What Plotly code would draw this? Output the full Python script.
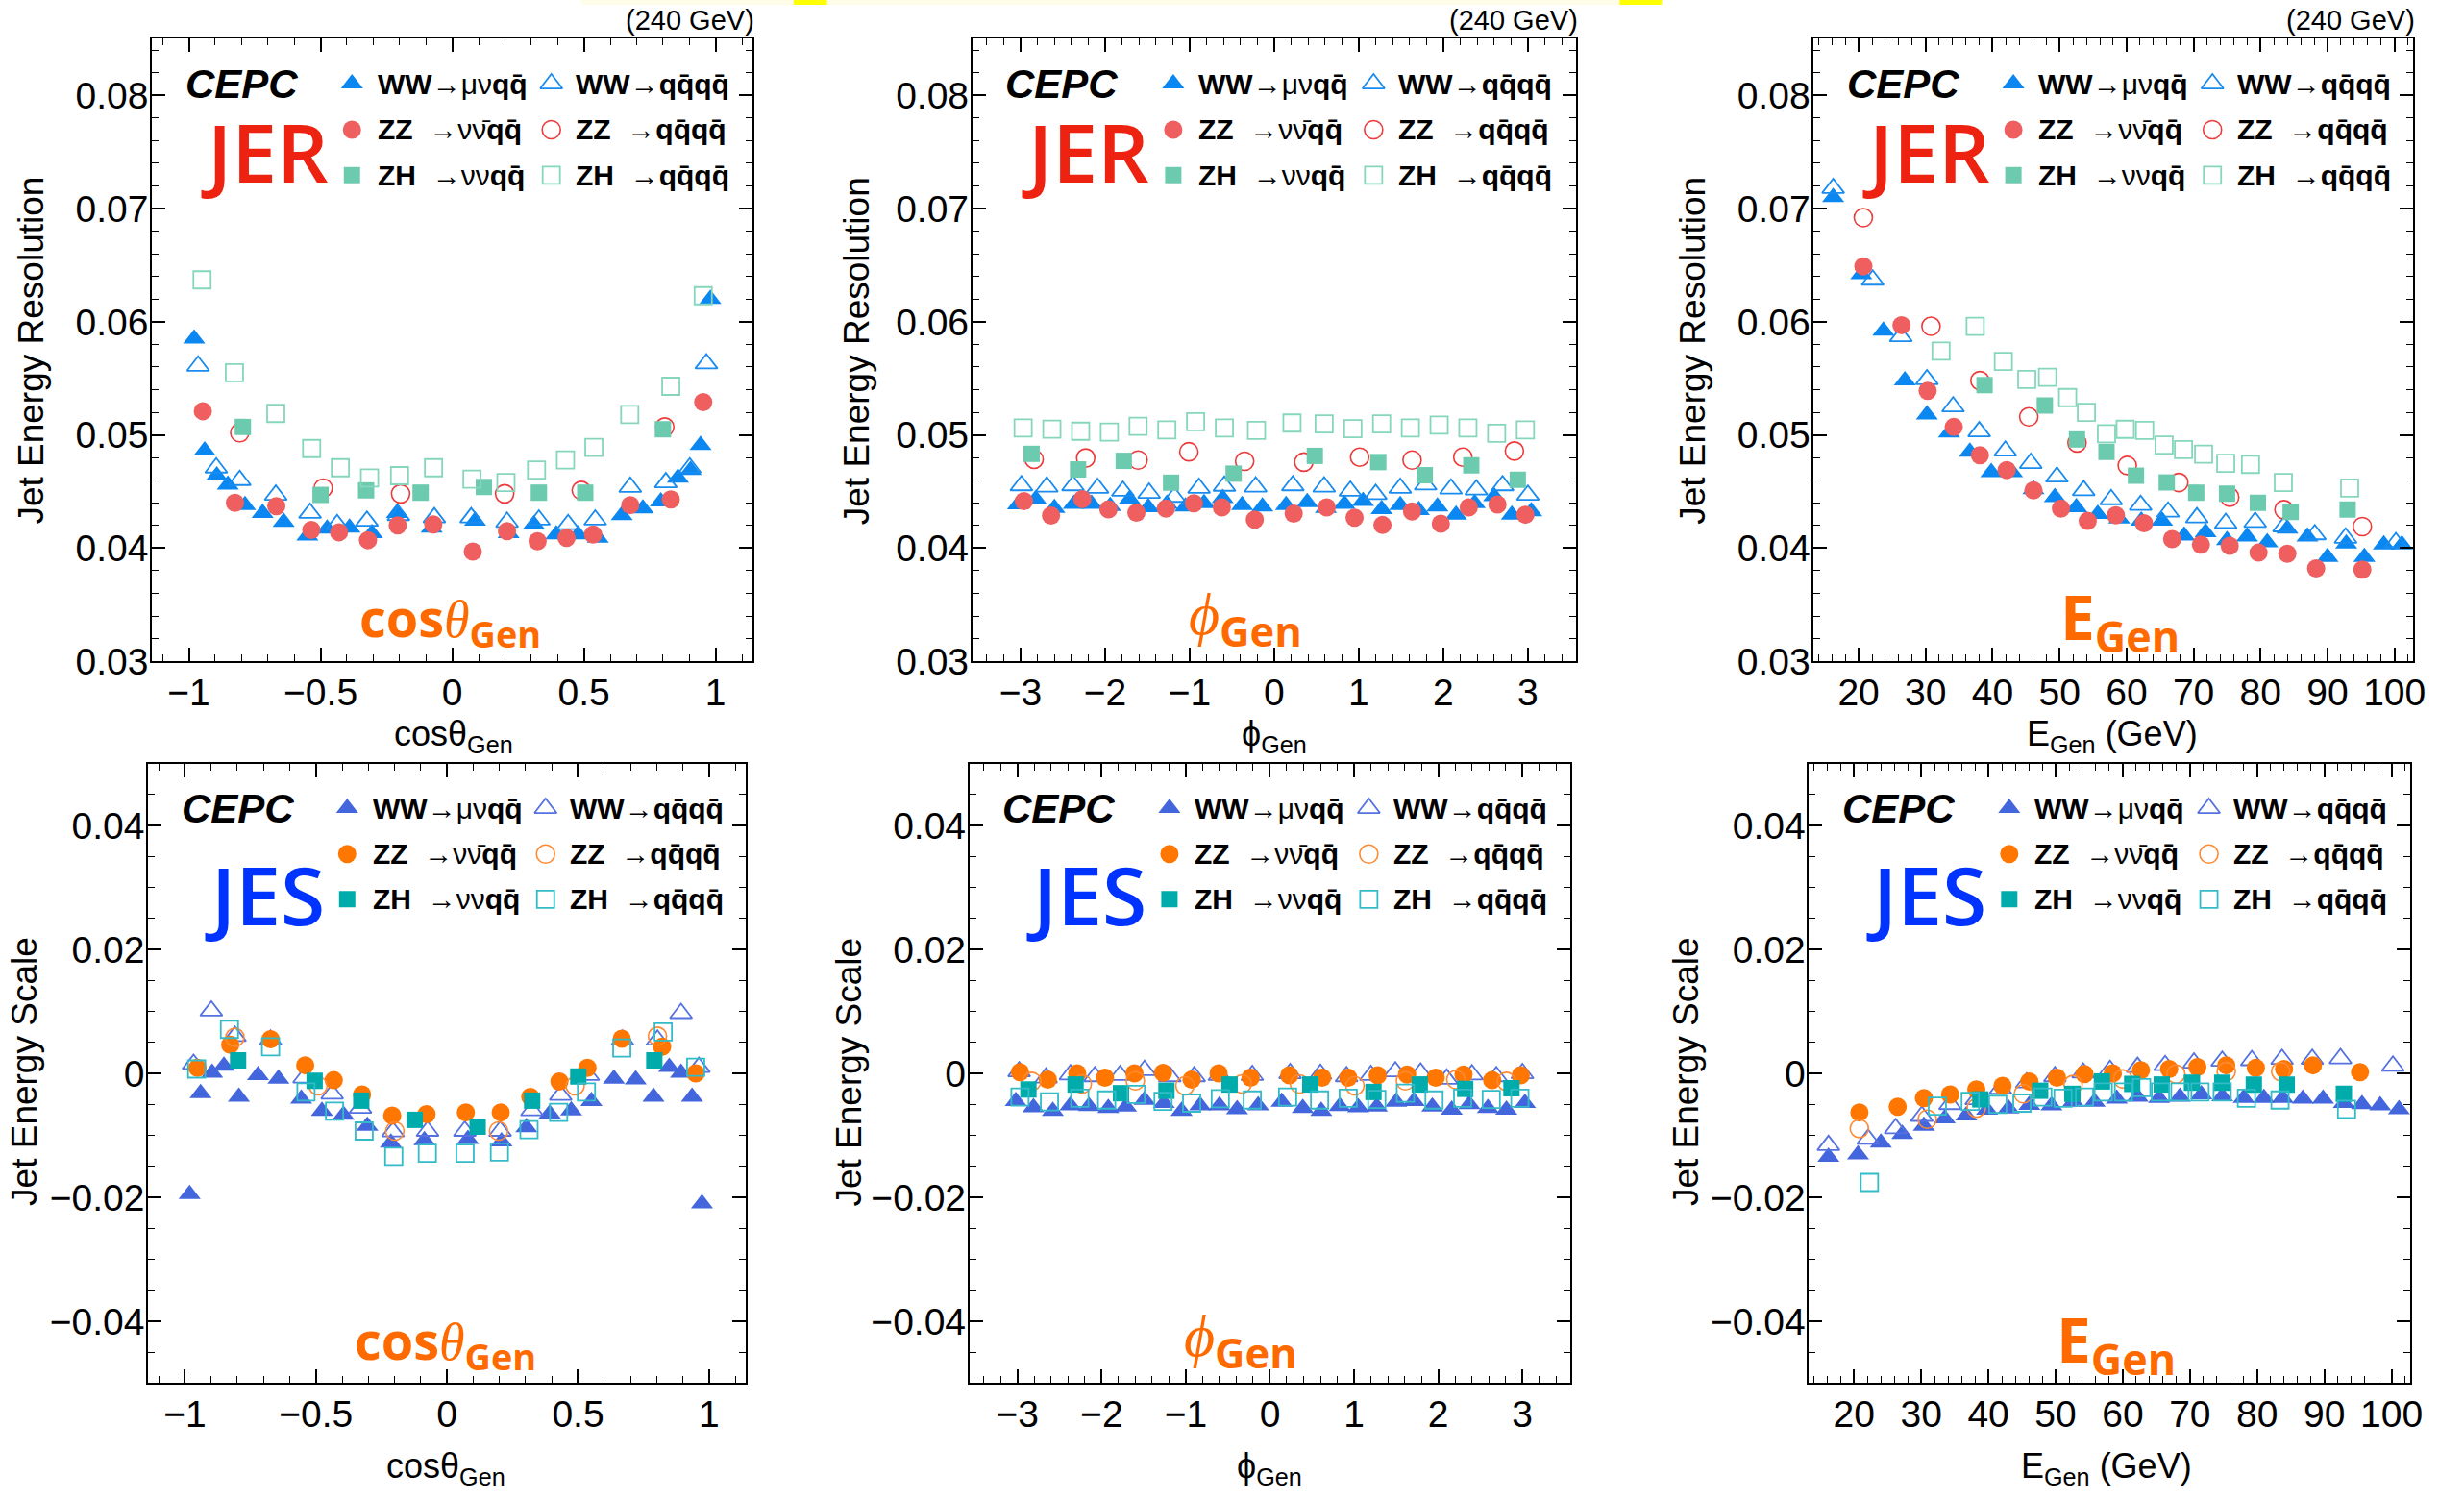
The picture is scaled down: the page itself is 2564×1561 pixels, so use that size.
import plotly.graph_objects as go

W, H = 2564, 1561

# ---------------- DATA ----------------
# JER vs cos(theta)
jer_cos_ww_munu_x = [-0.98, -0.94, -0.894, -0.852, -0.787, -0.72, -0.64, -0.55, -0.475, -0.39, -0.305, -0.21, -0.078, 0.087, 0.214, 0.31, 0.395, 0.478, 0.553, 0.644, 0.724, 0.792, 0.857, 0.905, 0.943, 0.98]
jer_cos_ww_munu_y = [0.0585, 0.0486, 0.0464, 0.0456, 0.0438, 0.0431, 0.0423, 0.0411, 0.0417, 0.0418, 0.0413, 0.0431, 0.0418, 0.0424, 0.0413, 0.0421, 0.0412, 0.0412, 0.0409, 0.0429, 0.0435, 0.0441, 0.0462, 0.0469, 0.0491, 0.062]
jer_cos_ww_qqqq_x = [-0.965, -0.896, -0.807, -0.67, -0.54, -0.437, -0.324, -0.204, -0.068, 0.072, 0.208, 0.329, 0.44, 0.543, 0.676, 0.811, 0.902, 0.965]
jer_cos_ww_qqqq_y = [0.0561, 0.0471, 0.046, 0.0447, 0.0431, 0.0421, 0.0424, 0.0429, 0.0427, 0.0427, 0.0423, 0.0425, 0.0421, 0.0425, 0.0454, 0.0458, 0.0471, 0.0563]
jer_cos_zz_nunu_x = [-0.947, -0.825, -0.668, -0.535, -0.43, -0.32, -0.207, -0.072, 0.078, 0.208, 0.324, 0.434, 0.535, 0.676, 0.83, 0.953]
jer_cos_zz_nunu_y = [0.0521, 0.044, 0.0437, 0.0416, 0.0414, 0.0407, 0.042, 0.0421, 0.0397, 0.0415, 0.0406, 0.0409, 0.0412, 0.0438, 0.0443, 0.0529]
jer_cos_zz_qqqq_x = [-0.807, -0.49, -0.196, 0.199, 0.49, 0.807]
jer_cos_zz_qqqq_y = [0.0502, 0.0453, 0.0448, 0.0448, 0.0451, 0.0507]
jer_cos_zh_nunu_x = [-0.795, -0.5, -0.327, -0.12, 0.12, 0.329, 0.505, 0.8]
jer_cos_zh_nunu_y = [0.0507, 0.0447, 0.0451, 0.0449, 0.0454, 0.0449, 0.0449, 0.0505]
jer_cos_zh_qqqq_x = [-0.95, -0.827, -0.67, -0.534, -0.425, -0.314, -0.2, -0.071, 0.075, 0.204, 0.32, 0.43, 0.538, 0.674, 0.83, 0.953]
jer_cos_zh_qqqq_y = [0.0637, 0.0555, 0.0519, 0.0488, 0.0471, 0.0462, 0.0464, 0.0471, 0.0461, 0.0458, 0.0469, 0.0478, 0.0489, 0.0518, 0.0543, 0.0623]

# JER vs phi
jer_phi_ww_munu_x = [-3.03, -2.82, -2.60, -2.37, -2.16, -1.94, -1.71, -1.49, -1.27, -1.05, -0.83, -0.61, -0.38, -0.14, 0.14, 0.39, 0.61, 0.83, 1.05, 1.27, 1.49, 1.71, 1.93, 2.15, 2.37, 2.60, 2.81, 3.04]
jer_phi_ww_munu_y = [0.04385, 0.04433, 0.04353, 0.04389, 0.04389, 0.04371, 0.04433, 0.0436, 0.04389, 0.04367, 0.04396, 0.0444, 0.04378, 0.04367, 0.04378, 0.04404, 0.04353, 0.04389, 0.04415, 0.04342, 0.04378, 0.04335, 0.04367, 0.04295, 0.04396, 0.04458, 0.04295, 0.04324]
jer_phi_ww_qqqq_x = [-2.99, -2.69, -2.38, -2.09, -1.79, -1.48, -1.18, -0.89, -0.59, -0.22, 0.22, 0.59, 0.90, 1.20, 1.49, 1.79, 2.09, 2.39, 2.70, 3.0]
jer_phi_ww_qqqq_y = [0.04553, 0.04542, 0.04553, 0.04531, 0.04505, 0.04487, 0.04451, 0.04531, 0.04549, 0.04542, 0.04553, 0.04542, 0.04505, 0.04476, 0.04531, 0.0456, 0.04524, 0.04516, 0.04553, 0.04469]
jer_phi_zz_nunu_x = [-2.96, -2.64, -2.27, -1.96, -1.63, -1.28, -0.95, -0.62, -0.23, 0.23, 0.62, 0.95, 1.28, 1.63, 1.97, 2.30, 2.64, 2.97]
jer_phi_zz_nunu_y = [0.04415, 0.04287, 0.04433, 0.04342, 0.04313, 0.04349, 0.04396, 0.0436, 0.04251, 0.04305, 0.0436, 0.04269, 0.04204, 0.04324, 0.04215, 0.0436, 0.04385, 0.04295]
jer_phi_zz_qqqq_x = [-2.84, -2.23, -1.61, -1.01, -0.35, 0.35, 1.01, 1.63, 2.23, 2.84]
jer_phi_zz_qqqq_y = [0.04785, 0.04796, 0.04778, 0.04851, 0.04767, 0.0476, 0.04804, 0.04778, 0.04804, 0.04858]
jer_phi_zh_nunu_x = [-2.87, -2.32, -1.78, -1.22, -0.48, 0.48, 1.23, 1.78, 2.33, 2.88]
jer_phi_zh_nunu_y = [0.04833, 0.04695, 0.04771, 0.04578, 0.04658, 0.04815, 0.0476, 0.04644, 0.04731, 0.04604]
jer_phi_zh_qqqq_x = [-2.97, -2.63, -2.29, -1.95, -1.61, -1.27, -0.93, -0.59, -0.21, 0.21, 0.59, 0.93, 1.27, 1.61, 1.95, 2.29, 2.63, 2.97]
jer_phi_zh_qqqq_y = [0.05062, 0.05051, 0.05033, 0.05025, 0.05076, 0.05044, 0.05116, 0.05062, 0.0504, 0.05105, 0.05098, 0.05055, 0.05098, 0.05062, 0.05087, 0.05062, 0.05015, 0.05044]

# JER vs E
jer_e_ww_munu_x = [16.2, 20.4, 23.7, 26.9, 30.2, 33.5, 36.6, 39.8, 42.9, 46.1, 49.3, 52.5, 55.7, 58.9, 62.2, 65.3, 68.6, 71.8, 75.0, 78.0, 81.0, 84.0, 87.0, 90.0, 92.8, 95.5, 98.4, 101.1]
jer_e_ww_munu_y = [0.0710, 0.0642, 0.0592, 0.0548, 0.0518, 0.0502, 0.0485, 0.0467, 0.0467, 0.0452, 0.0445, 0.0436, 0.0430, 0.0426, 0.0424, 0.0424, 0.0411, 0.0414, 0.0407, 0.0410, 0.0405, 0.0417, 0.0410, 0.0392, 0.0404, 0.0392, 0.0403, 0.0403]
jer_e_ww_qqqq_x = [16.2, 22.1, 26.3, 30.2, 34.1, 38.0, 41.9, 45.7, 49.6, 53.6, 57.7, 62.1, 66.2, 70.5, 74.8, 79.2, 83.5, 88.1, 92.7, 100.2]
jer_e_ww_qqqq_y = [0.0718, 0.0637, 0.0587, 0.0549, 0.0525, 0.0503, 0.0486, 0.0475, 0.0463, 0.0451, 0.0443, 0.0438, 0.0432, 0.0427, 0.0422, 0.0423, 0.0419, 0.0412, 0.0409, 0.0405]
jer_e_zz_nunu_x = [20.7, 26.4, 30.3, 34.2, 38.1, 42.1, 46.1, 50.2, 54.2, 58.4, 62.6, 66.8, 71.1, 75.4, 79.7, 84.0, 88.3, 95.2]
jer_e_zz_nunu_y = [0.0649, 0.0597, 0.0539, 0.0507, 0.0482, 0.0469, 0.0451, 0.0435, 0.0424, 0.0429, 0.0422, 0.0408, 0.0403, 0.0402, 0.0396, 0.0395, 0.0382, 0.0381]
jer_e_zz_qqqq_x = [20.7, 30.8, 38.1, 45.4, 52.6, 60.1, 67.8, 75.4, 83.5, 95.2]
jer_e_zz_qqqq_y = [0.0692, 0.0596, 0.0548, 0.0516, 0.0493, 0.0473, 0.0458, 0.0445, 0.0434, 0.0419]
jer_e_zh_nunu_x = [38.8, 47.8, 52.6, 57.0, 61.4, 66.0, 70.4, 75.0, 79.6, 84.5, 93.0]
jer_e_zh_nunu_y = [0.0544, 0.0526, 0.0496, 0.0485, 0.0464, 0.0458, 0.0449, 0.0448, 0.0440, 0.0432, 0.0434]
jer_e_zh_qqqq_x = [32.3, 37.4, 41.6, 45.1, 48.2, 51.2, 54.0, 57.0, 59.8, 62.7, 65.6, 68.5, 71.5, 74.8, 78.5, 83.4, 93.3]
jer_e_zh_qqqq_y = [0.0574, 0.0596, 0.0565, 0.0549, 0.0551, 0.0533, 0.0520, 0.0501, 0.0505, 0.0504, 0.0491, 0.0487, 0.0483, 0.0475, 0.0474, 0.0458, 0.0453]

# JES vs cos(theta)
jes_cos_ww_munu_x = [-0.982, -0.94, -0.896, -0.851, -0.794, -0.721, -0.643, -0.556, -0.477, -0.395, -0.304, -0.214, -0.086, 0.08, 0.208, 0.303, 0.392, 0.474, 0.551, 0.637, 0.72, 0.788, 0.848, 0.893, 0.935, 0.973]
jes_cos_ww_munu_y = [-0.0195, -0.0032, 0.0001, 0.0012, -0.0038, -0.0003, -0.0009, -0.0041, -0.0061, -0.0067, -0.0085, -0.0112, -0.0108, -0.0106, -0.011, -0.0087, -0.0065, -0.006, -0.0045, -0.0009, -0.001, -0.0038, 0.001, 0.0001, -0.0038, -0.021]
jes_cos_ww_qqqq_x = [-0.967, -0.899, -0.809, -0.673, -0.545, -0.438, -0.33, -0.206, -0.074, 0.068, 0.203, 0.324, 0.434, 0.539, 0.67, 0.803, 0.893, 0.961]
jes_cos_ww_qqqq_y = [0.0015, 0.0101, 0.006, 0.0054, -0.0007, -0.0033, -0.0056, -0.0094, -0.0093, -0.0093, -0.0093, -0.006, -0.0035, -0.0003, 0.0054, 0.0054, 0.0097, 0.001]
jes_cos_zz_nunu_x = [-0.952, -0.827, -0.673, -0.541, -0.432, -0.324, -0.209, -0.078, 0.072, 0.205, 0.318, 0.429, 0.536, 0.667, 0.821, 0.949]
jes_cos_zz_nunu_y = [0.0009, 0.0046, 0.0055, 0.0013, -0.0011, -0.0034, -0.0068, -0.0066, -0.0063, -0.0063, -0.0038, -0.0013, 0.0009, 0.0056, 0.0043, 0.0]
jes_cos_zz_qqqq_x = [-0.809, -0.492, -0.199, 0.197, 0.489, 0.803]
jes_cos_zz_qqqq_y = [0.0058, -0.002, -0.0093, -0.0093, -0.002, 0.006]
jes_cos_zh_nunu_x = [-0.797, -0.505, -0.327, -0.123, 0.117, 0.325, 0.501, 0.791]
jes_cos_zh_nunu_y = [0.0021, -0.0012, -0.0044, -0.0075, -0.0086, -0.0044, -0.0005, 0.0021]
jes_cos_zh_qqqq_x = [-0.955, -0.83, -0.673, -0.538, -0.429, -0.316, -0.203, -0.075, 0.069, 0.2, 0.313, 0.426, 0.532, 0.667, 0.825, 0.949]
jes_cos_zh_qqqq_y = [0.0007, 0.0071, 0.0043, -0.003, -0.0061, -0.0093, -0.0134, -0.0129, -0.0129, -0.0127, -0.0091, -0.0063, -0.003, 0.0041, 0.0067, 0.001]

# JES vs phi
jes_phi_ww_munu_x = [-3.02, -2.81, -2.58, -2.37, -2.15, -1.92, -1.71, -1.49, -1.26, -1.05, -0.83, -0.60, -0.39, -0.14, 0.14, 0.39, 0.61, 0.83, 1.05, 1.27, 1.50, 1.71, 1.93, 2.16, 2.37, 2.59, 2.81, 3.03]
jes_phi_ww_munu_y = [-0.0045, -0.0055, -0.0061, -0.0052, -0.0053, -0.0056, -0.0054, -0.0043, -0.0048, -0.0061, -0.0052, -0.0052, -0.0058, -0.0052, -0.0046, -0.0056, -0.0061, -0.0053, -0.0055, -0.0054, -0.0046, -0.0045, -0.0054, -0.0059, -0.005, -0.0056, -0.0059, -0.0048]
jes_phi_ww_qqqq_x = [-2.98, -2.66, -2.37, -2.08, -1.78, -1.49, -1.19, -0.90, -0.60, -0.21, 0.24, 0.60, 0.91, 1.20, 1.49, 1.79, 2.10, 2.40, 2.69, 3.0]
jes_phi_ww_qqqq_y = [0.0003, -0.0007, -0.0002, -0.0005, -0.0003, 0.0005, -0.0005, -0.0005, -0.0003, -0.0003, 0.0, -0.0001, -0.0005, -0.0003, 0.0003, 0.0001, -0.0009, -0.0002, -0.0005, 0.0]
jes_phi_zz_nunu_x = [-2.97, -2.64, -2.29, -1.96, -1.61, -1.27, -0.93, -0.61, -0.23, 0.23, 0.62, 0.93, 1.28, 1.63, 1.97, 2.30, 2.64, 2.98]
jes_phi_zz_nunu_y = [0.0002, -0.001, 0.0, -0.0007, 0.0, 0.0001, -0.001, 0.0, -0.0007, -0.0003, -0.0007, -0.0007, -0.0003, -0.0002, -0.0007, -0.0002, -0.0011, -0.0003]
jes_phi_zz_qqqq_x = [-2.83, -2.23, -1.60, -1.01, -0.33, 0.35, 1.01, 1.61, 2.21, 2.81]
jes_phi_zz_qqqq_y = [-0.0013, -0.0017, -0.0012, -0.002, -0.0017, -0.0017, -0.002, -0.0012, -0.001, -0.0013]
jes_phi_zh_nunu_x = [-2.87, -2.31, -1.77, -1.23, -0.48, 0.48, 1.23, 1.78, 2.32, 2.87]
jes_phi_zh_nunu_y = [-0.0026, -0.0018, -0.0032, -0.0028, -0.0018, -0.0018, -0.003, -0.0018, -0.0025, -0.0024]
jes_phi_zh_qqqq_x = [-2.97, -2.62, -2.26, -1.94, -1.59, -1.27, -0.93, -0.59, -0.21, 0.21, 0.59, 0.93, 1.27, 1.61, 1.95, 2.29, 2.63, 2.97]
jes_phi_zh_qqqq_y = [-0.0038, -0.0046, -0.004, -0.0043, -0.0034, -0.0045, -0.0048, -0.0041, -0.0043, -0.0038, -0.0043, -0.004, -0.0042, -0.0032, -0.0043, -0.004, -0.0042, -0.004]

# JES vs E
jes_e_ww_munu_x = [16.2, 20.6, 24.0, 27.2, 30.4, 33.5, 36.7, 39.8, 43.0, 46.1, 49.4, 52.6, 55.8, 59.1, 62.2, 65.4, 68.5, 71.7, 74.8, 78.0, 81.0, 83.8, 86.8, 89.8, 92.9, 95.6, 98.3, 101.1]
jes_e_ww_munu_y = [-0.0135, -0.0131, -0.0112, -0.0098, -0.0085, -0.0073, -0.0068, -0.0059, -0.0057, -0.0051, -0.0052, -0.0046, -0.0046, -0.0041, -0.0038, -0.004, -0.0038, -0.0034, -0.0037, -0.004, -0.004, -0.004, -0.0041, -0.0041, -0.0048, -0.005, -0.0052, -0.0058]
jes_e_ww_qqqq_x = [16.2, 22.1, 26.2, 30.1, 34.3, 38.2, 41.8, 45.7, 49.9, 54.1, 58.1, 62.2, 66.3, 70.6, 74.8, 79.2, 83.7, 88.2, 92.4, 100.2]
jes_e_ww_qqqq_y = [-0.0116, -0.0106, -0.0089, -0.0069, -0.005, -0.0042, -0.0025, -0.0015, -0.0005, 0.0001, 0.0005, 0.001, 0.0013, 0.0017, 0.002, 0.0021, 0.0023, 0.0023, 0.0024, 0.0012]
jes_e_zz_nunu_x = [20.8, 26.5, 30.4, 34.3, 38.2, 42.1, 46.1, 50.2, 54.3, 58.5, 62.7, 66.9, 71.1, 75.4, 79.8, 84.0, 88.3, 95.3]
jes_e_zz_nunu_y = [-0.0063, -0.0054, -0.004, -0.0034, -0.0026, -0.002, -0.0013, -0.0007, -0.0001, 0.0, 0.0005, 0.0007, 0.001, 0.0013, 0.0009, 0.0007, 0.0013, 0.0002]
jes_e_zz_qqqq_x = [20.8, 30.9, 38.2, 45.2, 52.6, 60.0, 67.9, 75.4, 83.5]
jes_e_zz_qqqq_y = [-0.0089, -0.0074, -0.0056, -0.0033, -0.0018, -0.0009, -0.0001, 0.0003, 0.0003]
jes_e_zh_nunu_x = [38.8, 47.7, 52.5, 56.9, 61.4, 65.8, 70.3, 74.8, 79.5, 84.4, 92.9]
jes_e_zh_nunu_y = [-0.0042, -0.0028, -0.0033, -0.0013, -0.0017, -0.0018, -0.0015, -0.0015, -0.0018, -0.0018, -0.0033]
jes_e_zh_qqqq_x = [22.3, 32.4, 37.3, 41.4, 45.0, 48.1, 51.1, 54.3, 57.1, 60.1, 62.8, 65.6, 68.5, 71.5, 74.8, 78.4, 83.4, 93.3]
jes_e_zh_qqqq_y = [-0.0176, -0.0053, -0.0045, -0.005, -0.0048, -0.0038, -0.004, -0.0038, -0.003, -0.003, -0.0023, -0.003, -0.003, -0.003, -0.003, -0.004, -0.0043, -0.0058]

# legend / label texts
legend_labels = [
    "<b>WW</b>→μν<b>qq̄</b>", "<b>WW</b>→<b>qq̄qq̄</b>",
    "<b>ZZ</b>  →νν̄<b>qq̄</b>", "<b>ZZ</b>  →<b>qq̄qq̄</b>",
    "<b>ZH</b>  →νν<b>qq̄</b>", "<b>ZH</b>  →<b>qq̄qq̄</b>",
]
x_titles = ["cosθ<sub>Gen</sub>", "ϕ<sub>Gen</sub>", "E<sub>Gen</sub> (GeV)"]
y_titles = ["Jet Energy Resolution", "Jet Energy Scale"]

# ---------------- STYLE ----------------
top_colors = dict(tri="#0A87F0", tri_o="#1A8CF0", circ="#F05F5F", circ_o="#EE3A3A", sq="#6CCBAE", sq_o="#86D6BE")
bot_colors = dict(tri="#4466DD", tri_o="#5572E0", circ="#FF7700", circ_o="#FF8A33", sq="#00ABAB", sq_o="#33BBC8")

# panel frames in pixels: (x0, x1, ytop, ybottom)
frames = [
    (159, 787, 41, 698), (1017, 1648, 41, 698), (1897, 2524, 41, 698),
    (155, 780, 806, 1460), (1014, 1642, 806, 1460), (1892, 2521, 806, 1460),
]
xranges = [[-1.14, 1.14], [-3.57, 3.565], [13.3, 102.8]] * 2
yranges = [[0.03, 0.085]] * 3 + [[-0.05, 0.05]] * 3

FONT = "Liberation Sans, Arial"

panels = [
    [(jer_cos_ww_munu_x, jer_cos_ww_munu_y), (jer_cos_ww_qqqq_x, jer_cos_ww_qqqq_y), (jer_cos_zz_nunu_x, jer_cos_zz_nunu_y),
     (jer_cos_zz_qqqq_x, jer_cos_zz_qqqq_y), (jer_cos_zh_nunu_x, jer_cos_zh_nunu_y), (jer_cos_zh_qqqq_x, jer_cos_zh_qqqq_y)],
    [(jer_phi_ww_munu_x, jer_phi_ww_munu_y), (jer_phi_ww_qqqq_x, jer_phi_ww_qqqq_y), (jer_phi_zz_nunu_x, jer_phi_zz_nunu_y),
     (jer_phi_zz_qqqq_x, jer_phi_zz_qqqq_y), (jer_phi_zh_nunu_x, jer_phi_zh_nunu_y), (jer_phi_zh_qqqq_x, jer_phi_zh_qqqq_y)],
    [(jer_e_ww_munu_x, jer_e_ww_munu_y), (jer_e_ww_qqqq_x, jer_e_ww_qqqq_y), (jer_e_zz_nunu_x, jer_e_zz_nunu_y),
     (jer_e_zz_qqqq_x, jer_e_zz_qqqq_y), (jer_e_zh_nunu_x, jer_e_zh_nunu_y), (jer_e_zh_qqqq_x, jer_e_zh_qqqq_y)],
    [(jes_cos_ww_munu_x, jes_cos_ww_munu_y), (jes_cos_ww_qqqq_x, jes_cos_ww_qqqq_y), (jes_cos_zz_nunu_x, jes_cos_zz_nunu_y),
     (jes_cos_zz_qqqq_x, jes_cos_zz_qqqq_y), (jes_cos_zh_nunu_x, jes_cos_zh_nunu_y), (jes_cos_zh_qqqq_x, jes_cos_zh_qqqq_y)],
    [(jes_phi_ww_munu_x, jes_phi_ww_munu_y), (jes_phi_ww_qqqq_x, jes_phi_ww_qqqq_y), (jes_phi_zz_nunu_x, jes_phi_zz_nunu_y),
     (jes_phi_zz_qqqq_x, jes_phi_zz_qqqq_y), (jes_phi_zh_nunu_x, jes_phi_zh_nunu_y), (jes_phi_zh_qqqq_x, jes_phi_zh_qqqq_y)],
    [(jes_e_ww_munu_x, jes_e_ww_munu_y), (jes_e_ww_qqqq_x, jes_e_ww_qqqq_y), (jes_e_zz_nunu_x, jes_e_zz_nunu_y),
     (jes_e_zz_qqqq_x, jes_e_zz_qqqq_y), (jes_e_zh_nunu_x, jes_e_zh_nunu_y), (jes_e_zh_qqqq_x, jes_e_zh_qqqq_y)],
]


def marker_styles(cols):
    return [
        dict(symbol="triangle-up", size=20, color=cols["tri"], line=dict(width=0)),
        dict(symbol="triangle-up-open", size=20, color=cols["tri_o"], line=dict(width=1.8)),
        dict(symbol="circle", size=19, color=cols["circ"], line=dict(width=0)),
        dict(symbol="circle-open", size=19, color=cols["circ_o"], line=dict(width=1.6)),
        dict(symbol="square", size=17, color=cols["sq"], line=dict(width=0)),
        dict(symbol="square-open", size=18, color=cols["sq_o"], line=dict(width=1.8)),
    ]


fig = go.Figure()
annotations = []
shapes = []

xminor = [0.1, 0.2, 2]
xdtick = [0.5, 1, 10]

for p in range(6):
    ax = "" if p == 0 else str(p + 1)
    x0, x1, yt, yb = frames[p]
    dom_x = [x0 / W, x1 / W]
    dom_y = [1 - yb / H, 1 - yt / H]
    col = p % 3
    top = p < 3
    styles = marker_styles(top_colors if top else bot_colors)
    xr, yr = xranges[p], yranges[p]

    for (xs, ys), st in zip(panels[p], styles):
        fig.add_trace(go.Scatter(x=xs, y=ys, mode="markers", marker=st, xaxis="x" + ax, yaxis="y" + ax,
                                 showlegend=False, hoverinfo="x+y"))

    # legend markers (positions as fractions of the frame)
    lx = [0.333, 0.665]
    ly = [0.928, 0.854, 0.781]
    for i, st in enumerate(styles):
        c, r = i % 2, i // 2
        fig.add_trace(go.Scatter(x=[xr[0] + lx[c] * (xr[1] - xr[0])], y=[yr[0] + ly[r] * (yr[1] - yr[0])],
                                 mode="markers", marker=st, xaxis="x" + ax, yaxis="y" + ax,
                                 showlegend=False, hoverinfo="skip"))
    tx = [0.372, 0.703]
    for i, lab in enumerate(legend_labels):
        c, r = i % 2, i // 2
        annotations.append(dict(x=dom_x[0] + tx[c] * (dom_x[1] - dom_x[0]), y=dom_y[0] + ly[r] * (dom_y[1] - dom_y[0]),
                                xref="paper", yref="paper", text=lab, showarrow=False, xanchor="left", yanchor="middle",
                                font=dict(family="Liberation Sans, Arial", size=30, color="black")))

    def px(fx):
        return dom_x[0] + fx * (dom_x[1] - dom_x[0])

    def py(fy):
        return dom_y[0] + fy * (dom_y[1] - dom_y[0])

    # CEPC
    annotations.append(dict(x=px(0.052), y=py(0.928), xref="paper", yref="paper", text="<b><i>CEPC</i></b>",
                            showarrow=False, xanchor="left", yanchor="middle",
                            font=dict(family="Liberation Sans, Arial", size=42, color="black")))
    # JER / JES
    annotations.append(dict(x=px(0.078 if top else 0.092), y=py(0.82 if top else 0.79), xref="paper", yref="paper",
                            text="JER" if top else "JES", showarrow=False, xanchor="left", yanchor="middle",
                            font=dict(family="Open Sans, Noto Sans", size=84, color="#EE2211" if top else "#0033FF",
                                      weight=600)))
    # orange variable label
    var_txt = ["<b>cos</b><span style='font-family:Liberation Serif'><i>θ</i></span><sub><b>Gen</b></sub>",
               "<span style='font-family:Liberation Serif'><i>ϕ</i></span><sub><b>Gen</b></sub>",
               "<b>E</b><sub><b>Gen</b></sub>"][col]
    var_fx = [0.497, 0.452, 0.51][col]
    annotations.append(dict(x=px(var_fx), y=py(0.066), xref="paper", yref="paper", text=var_txt,
                            showarrow=False, xanchor="center", yanchor="middle",
                            font=dict(family="Open Sans, Noto Sans", size=[54, 62, 64][col], color="#FF6A00")))
    # axis titles
    xt_cx = [474, 1333, 2209, 466, 1328, 2203][p]
    xt_y = 752 if top else 1524
    annotations.append(dict(x=xt_cx / W, y=1 - xt_y / H, xref="paper", yref="paper", text=x_titles[col],
                            showarrow=False, xanchor="center", yanchor="top",
                            font=dict(family=FONT, size=36, color="black")))
    yt_cx = [33, 896, 1771, 25, 888, 1763][p]
    yt_cy = 370 if top else 1131
    annotations.append(dict(x=yt_cx / W, y=1 - yt_cy / H, xref="paper", yref="paper",
                            text=y_titles[0] if top else y_titles[1], textangle=-90,
                            showarrow=False, xanchor="center", yanchor="middle",
                            font=dict(family=FONT, size=37, color="black")))
    if top:
        annotations.append(dict(x=x1 / W, y=1 - 21 / H, xref="paper", yref="paper", text="(240 GeV)",
                                showarrow=False, xanchor="right", yanchor="middle", xshift=4,
                                font=dict(family=FONT, size=29, color="black")))

    axis_common = dict(showgrid=False, zeroline=False, showline=True, linecolor="black", linewidth=2,
                       mirror="allticks", ticks="inside", ticklen=14, tickwidth=1.5, tickcolor="black",
                       tickfont=dict(family=FONT, size=39, color="black"))
    fig.layout["xaxis" + ax] = dict(domain=dom_x, range=xr, anchor="y" + ax, tick0=0, dtick=xdtick[col],
                                    minor=dict(ticks="inside", ticklen=7, tickwidth=1.2, tickcolor="black",
                                               dtick=xminor[col], tick0=0),
                                    ticklabelstandoff=-3, **axis_common)
    fig.layout["yaxis" + ax] = dict(domain=dom_y, range=yr, anchor="x" + ax, tick0=0,
                                    dtick=0.01 if top else 0.02, tickformat=".2f" if top else "",
                                    minor=dict(ticks="inside", ticklen=7, tickwidth=1.2, tickcolor="black",
                                               dtick=0.002 if top else 0.005, tick0=0),
                                    ticklabelstandoff=-6, **axis_common)

# small yellow marks at the top edge of the picture
shapes.append(dict(type="rect", xref="paper", yref="paper", x0=608 / W, x1=1740 / W, y0=1 - 5 / H, y1=1,
                   fillcolor="#FFFDE8", line=dict(width=0), layer="below"))
shapes.append(dict(type="rect", xref="paper", yref="paper", x0=830 / W, x1=865 / W, y0=1 - 5 / H, y1=1,
                   fillcolor="#FFFF00", line=dict(width=0)))
shapes.append(dict(type="rect", xref="paper", yref="paper", x0=1694 / W, x1=1738 / W, y0=1 - 5 / H, y1=1,
                   fillcolor="#FFFF00", line=dict(width=0)))

fig.update_layout(width=W, height=H, autosize=False, margin=dict(l=0, r=0, t=0, b=0),
                  paper_bgcolor="white", plot_bgcolor="white", showlegend=False,
                  annotations=annotations, shapes=shapes)

fig.write_html("out.html", config={"displayModeBar": False})
